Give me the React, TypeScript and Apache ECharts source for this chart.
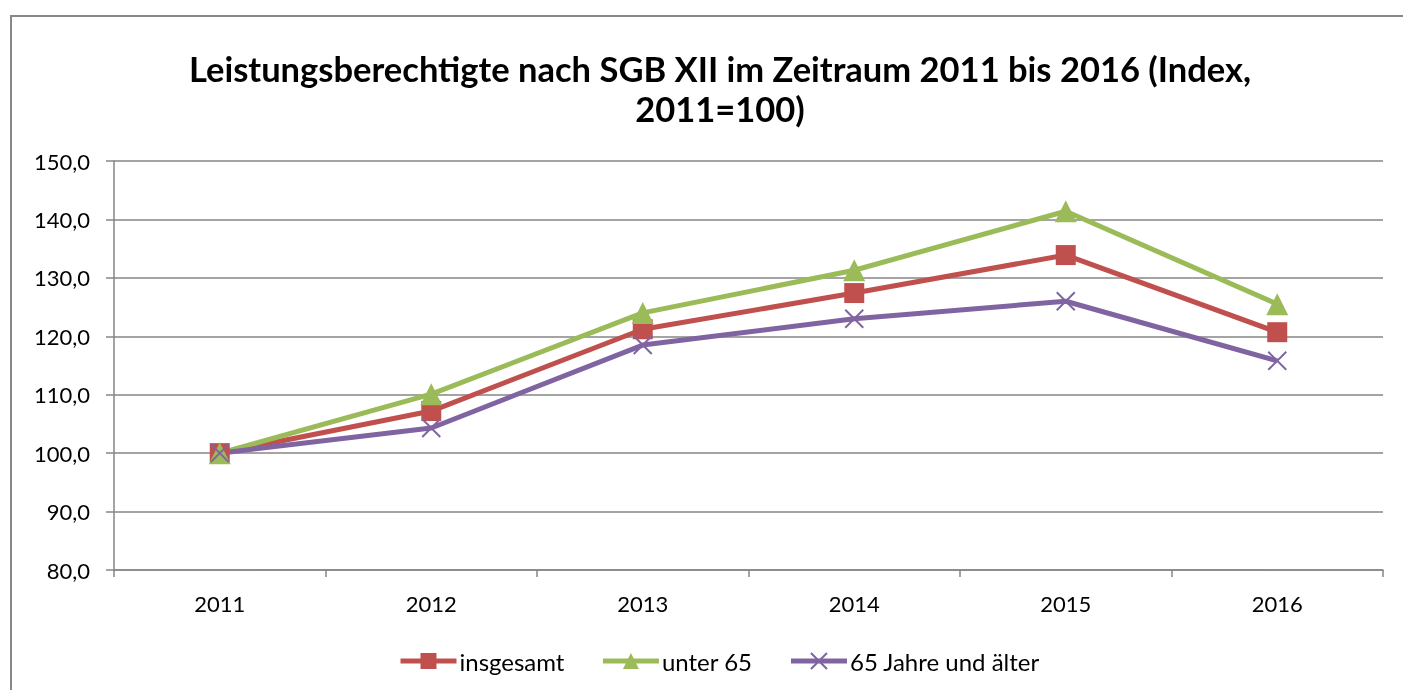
import React, { useEffect, useRef } from "react";
import * as echarts from "echarts";

const categories = ["2011", "2012", "2013", "2014", "2015", "2016"];
const insgesamt = [100.0, 107.2, 121.2, 127.4, 133.9, 120.7];
const unter65 = [100.0, 110.1, 124.0, 131.3, 141.4, 125.5];
const ab65 = [100.0, 104.3, 118.5, 123.0, 126.0, 115.8];
const seriesNames = ["insgesamt", "unter 65", "65 Jahre und älter"];
const titleText = "Leistungsberechtigte nach SGB XII im Zeitraum 2011 bis 2016 (Index,\n2011=100)";

const FONT = "Lato, 'Open Sans', sans-serif";
const GRID = "#868686";

export default function App() {
  const ref = useRef<HTMLDivElement>(null);
  useEffect(() => {
    const chart = echarts.init(ref.current!, null, { renderer: "svg" });
    const cross = "path://M0,0L10,10M10,0L0,10";
    const mk = (name: string, data: number[], color: string, symbol: string, size: number, extra: any = {}) => ({
      name,
      type: "line",
      data,
      symbol,
      symbolSize: size,
      lineStyle: { color, width: 5 },
      itemStyle: { color, ...extra },
      z: 3,
    });
    chart.setOption({
      animation: false,
      textStyle: { fontFamily: FONT },
      title: {
        text: titleText,
        left: 715,
        textAlign: "center",
        top: 43,
        textStyle: { fontFamily: FONT, fontSize: 34.5, fontWeight: "bold", color: "#000", lineHeight: 40 },
      },
      graphic: [
        {
          type: "rect",
          shape: { x: 11, y: 16, width: 1600, height: 800 },
          style: { fill: "none", stroke: "#888", lineWidth: 2 },
          silent: true,
        },
      ],
      legend: {
        bottom: 12,
        left: 393,
        itemWidth: 56,
        itemHeight: 20,
        itemGap: 36,
        lineStyle: { width: 5 },
        textStyle: { fontFamily: FONT, fontSize: 24, color: "#000", padding: [0, 0, 0, -2] },
        data: seriesNames,
      },
      grid: { left: 114, right: 20, top: 161, bottom: 120 },
      xAxis: {
        type: "category",
        data: categories,
        boundaryGap: true,
        axisLine: { lineStyle: { color: GRID, width: 1.5 } },
        axisTick: { show: true, length: 7, lineStyle: { color: GRID, width: 1.5 } },
        axisLabel: { fontFamily: FONT, fontSize: 22, color: "#000", margin: 22 },
      },
      yAxis: {
        type: "value",
        min: 80,
        max: 150,
        interval: 10,
        axisLine: { show: true, lineStyle: { color: GRID, width: 1.5 } },
        axisTick: { show: true, length: 8, lineStyle: { color: GRID, width: 1.5 } },
        splitLine: { lineStyle: { color: GRID, width: 1.5 } },
        axisLabel: {
          fontFamily: FONT,
          fontSize: 22,
          color: "#000",
          margin: 24,
          formatter: (v: number) => v.toFixed(1).replace(".", ","),
        },
      },
      series: [
        mk(seriesNames[0], insgesamt, "#C0504D", "rect", 20),
        mk(seriesNames[1], unter65, "#9BBB59", "triangle", 22),
        mk(seriesNames[2], ab65, "#8064A2", cross, 18, { borderColor: "#8064A2", borderWidth: 2 }),
      ],
    });
    return () => chart.dispose();
  }, []);
  return <div ref={ref} style={{ position: "fixed", left: 0, top: 0, width: 1403, height: 690 }} />;
}
